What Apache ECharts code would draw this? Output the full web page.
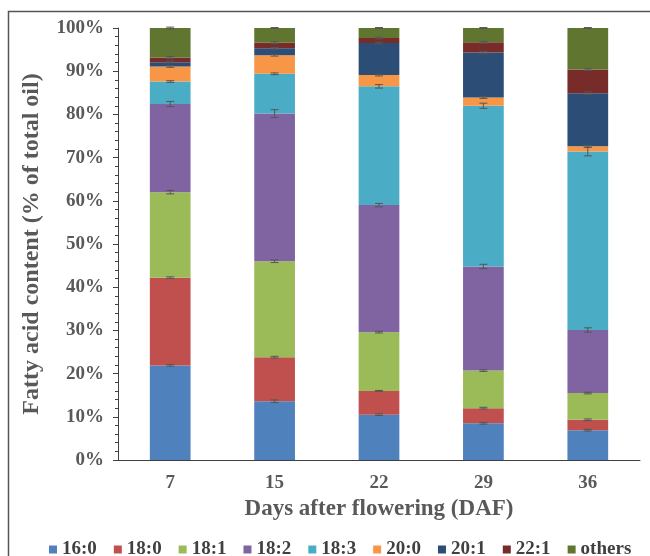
<!DOCTYPE html>
<html>
<head>
<meta charset="utf-8">
<title>Fatty acid content</title>
<script src="https://cdn.jsdelivr.net/npm/echarts@6/dist/echarts.min.js"></script>
<style>
    html, body { margin: 0; padding: 0; background: #ffffff; }
    #chart { width: 650px; height: 556px; }
</style>
</head>
<body>
<div id="chart"></div>
<script>
// 横轴类别（开花后天数）
var days = ['7', '15', '22', '29', '36'];

// 各脂肪酸所占比例（%）
var fa160 = [21.9, 13.6, 10.5, 8.5, 6.9];
var fa180 = [20.3, 10.2, 5.5, 3.5, 2.4];
var fa181 = [19.8, 22.2, 13.6, 8.7, 6.2];
var fa182 = [20.4, 34.2, 29.4, 24.1, 14.6];
var fa183 = [5.2, 9.2, 27.5, 37.2, 41.3];
var fa200 = [3.5, 4.3, 2.6, 1.9, 1.2];
var fa201 = [1.0, 1.6, 7.4, 10.4, 12.3];
var fa221 = [1.1, 1.3, 1.2, 2.4, 5.5];
var faOthers = [6.8, 3.4, 2.3, 3.3, 9.6];

// 误差（± %），画在每一段的顶端
var err160 = [0.2, 0.3, 0.2, 0.2, 0.2];
var err180 = [0.2, 0.2, 0.1, 0.2, 0.2];
var err181 = [0.4, 0.3, 0.2, 0.2, 0.2];
var err182 = [0.6, 0.9, 0.4, 0.5, 0.5];
var err183 = [0.2, 0.2, 0.4, 0.6, 1.0];
var err200 = [0.2, 0.2, 0.2, 0.2, 0.2];
var err201 = [0.2, 0.2, 0.2, 0.3, 0.3];
var err221 = [0.2, 0.2, 0.2, 0.2, 0.2];
var errOthers = [0.2, 0.1, 0.1, 0.1, 0.1];

// 纵轴刻度
var yTicks = [0, 10, 20, 30, 40, 50, 60, 70, 80, 90, 100];

var names = ['16:0', '18:0', '18:1', '18:2', '18:3', '20:0', '20:1', '22:1', 'others'];
var values = [fa160, fa180, fa181, fa182, fa183, fa200, fa201, fa221, faOthers];
var errors = [err160, err180, err181, err182, err183, err200, err201, err221, errOthers];
var colors = ['#4F81BD', '#C0504D', '#9BBB59', '#8064A2', '#4BACC6', '#F79646', '#2C4D75', '#772C2A', '#5F7530'];

var fontName = '"Liberation Serif", "DejaVu Serif", serif';
var textColor = '#595959';
var axisColor = '#404040';

/**
 * 误差线：竖线 + 上下两个短横
 */
function renderErrorBar(params, api) {
    var x = api.value(0);
    var top = api.value(1);
    var err = api.value(2);
    var hi = api.coord([x, top + err]);
    var lo = api.coord([x, top - err]);
    var half = 4;
    var style = { stroke: '#555555', lineWidth: 1 };
    return {
        type: 'group',
        children: [
            { type: 'line', shape: { x1: hi[0], y1: hi[1], x2: lo[0], y2: lo[1] }, style: style },
            { type: 'line', shape: { x1: hi[0] - half, y1: hi[1], x2: hi[0] + half, y2: hi[1] }, style: style },
            { type: 'line', shape: { x1: lo[0] - half, y1: lo[1], x2: lo[0] + half, y2: lo[1] }, style: style }
        ]
    };
}

var series = [];
var errData = [];
for (var j = 0; j < names.length; j++) {
    series.push({
        name: names[j],
        type: 'bar',
        stack: 'total',
        barWidth: '39%',
        data: values[j],
        itemStyle: { color: colors[j] },
        emphasis: { disabled: true }
    });
}
// 按累加值计算每段顶端的位置
for (var i = 0; i < days.length; i++) {
    var sum = 0;
    for (var k = 0; k < names.length; k++) {
        sum += values[k][i];
        errData.push([i, sum, errors[k][i]]);
    }
}
series.push({
    type: 'custom',
    renderItem: renderErrorBar,
    data: errData,
    z: 10,
    silent: true,
    encode: { x: 0, y: 1 }
});

var chart = echarts.init(document.getElementById('chart'));

var option = {
    animation: false,
    backgroundColor: '#ffffff',
    textStyle: { fontFamily: fontName },
    graphic: [{
        type: 'rect',
        shape: { x: 8.5, y: 11.5, width: 700, height: 600 },
        style: { fill: 'none', stroke: '#555555', lineWidth: 1.5 }
    }],
    grid: { left: 118, right: 10, top: 28, bottom: 96 },
    legend: {
        data: names,
        left: 44,
        top: 535,
        icon: 'rect',
        itemWidth: 8,
        itemHeight: 8,
        itemGap: 17,
        selectedMode: false,
        textStyle: { fontFamily: fontName, fontSize: 19, fontWeight: 'bold', color: '#404040' }
    },
    xAxis: [{
        type: 'category',
        data: days,
        name: 'Days after flowering (DAF)',
        nameLocation: 'middle',
        nameGap: 38,
        nameTextStyle: { fontFamily: fontName, fontSize: 23, fontWeight: 'bold', color: textColor },
        axisLine: { lineStyle: { color: axisColor, width: 1 } },
        axisTick: { alignWithLabel: true, length: 5, lineStyle: { color: axisColor } },
        axisLabel: { margin: 14, fontFamily: fontName, fontSize: 19, fontWeight: 'bold', color: textColor },
        splitLine: { show: false }
    }, {
        // 类别之间的刻度
        type: 'category',
        data: days,
        position: 'bottom',
        axisLine: { show: false },
        axisTick: { alignWithLabel: false, length: 5, lineStyle: { color: axisColor } },
        axisLabel: { show: false },
        splitLine: { show: false }
    }],
    yAxis: {
        type: 'value',
        min: yTicks[0],
        max: yTicks[yTicks.length - 1],
        interval: 10,
        name: 'Fatty acid content (% of total oil)',
        nameLocation: 'middle',
        nameRotate: 90,
        nameGap: 74,
        nameTextStyle: { fontFamily: fontName, fontSize: 24, fontWeight: 'bold', color: textColor },
        axisLine: { show: true, lineStyle: { color: axisColor, width: 1 } },
        axisTick: { show: true, length: 5, lineStyle: { color: axisColor } },
        minorTick: { show: true, splitNumber: 5, length: 3, lineStyle: { color: axisColor } },
        axisLabel: {
            margin: 14,
            fontFamily: fontName,
            fontSize: 19,
            fontWeight: 'bold',
            color: textColor,
            formatter: '{value}%'
        },
        splitLine: { show: false }
    },
    series: series
};

chart.setOption(option);
</script>
</body>
</html>
